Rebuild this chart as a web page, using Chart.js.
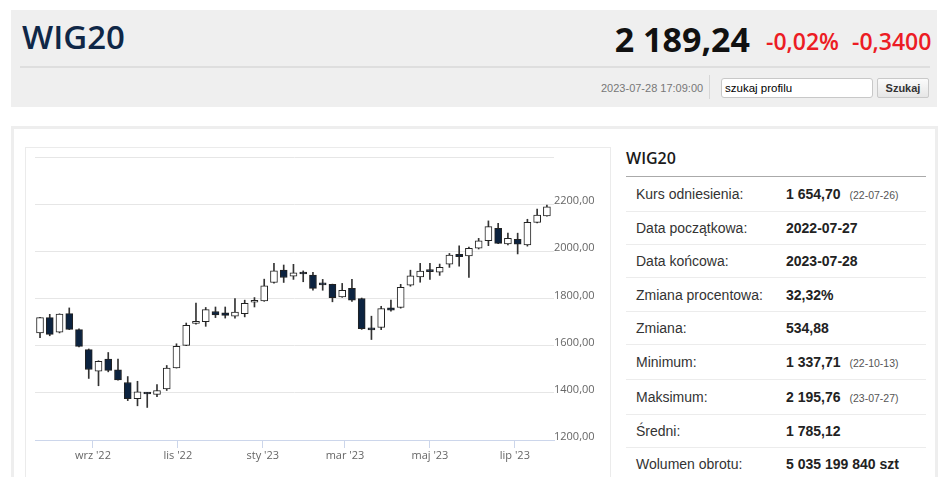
<!DOCTYPE html>
<html lang="pl">
<head>
<meta charset="utf-8">
<title>WIG20</title>
<script src="https://cdn.jsdelivr.net/npm/chart.js@4.4.0/dist/chart.umd.min.js"></script>
<style>
  body { margin: 0; width: 948px; height: 477px; overflow: hidden; background: #fff; position: relative;
         font-family: Arial, "Liberation Sans", sans-serif; }
  .abs { position: absolute; }
  #head { left: 11px; top: 10px; width: 926px; height: 97px; background: #efefef; }
  #title { left: 22px; top: 19px; font: 600 33px/35px "Open Sans", sans-serif; color: #0f2747; }
  #price { right: 198px; top: 21px; font: 700 34px/36px "Open Sans", sans-serif; color: #111; }
  .chg { top: 29px; font: 600 23px/24px "Open Sans", sans-serif; color: #ec1c24; }
  #sep { left: 20px; top: 66px; width: 910px; height: 2px; background: #dedede; }
  #stamp { left: 601px; top: 81px; font-size: 11px; line-height: 14px; color: #777; }
  #vdiv { left: 709px; top: 75px; width: 1px; height: 24px; background: #d6d6d6; }
  #search { left: 721px; top: 78px; width: 152px; height: 20px; box-sizing: border-box; border: 1px solid #c8c8c8;
            border-radius: 3px; background: #fff; font-size: 11.5px; line-height: 18px; padding-left: 3px; color: #000; }
  #btn { left: 877px; top: 78px; width: 52px; height: 20px; box-sizing: border-box; border: 1px solid #c9c9c9;
         border-radius: 2px; background: linear-gradient(#fbfbfb, #e6e6e6); font: bold 11px/18px Arial, sans-serif;
         color: #333; text-align: center; }
  #panel { left: 11px; top: 126px; width: 927px; height: 400px; box-sizing: border-box; border: 3px solid #eeeeee; }
  #box { left: 25px; top: 147px; width: 586px; height: 400px; box-sizing: border-box; border: 1px solid #ebebeb; }
  #chart { left: 25px; top: 147px; }
  #side-title { left: 626px; top: 150px; font: 600 16px/16px "Open Sans", sans-serif; color: #1a1a1a; }
  #side-line { left: 626px; top: 176px; width: 300px; height: 1px; background: #aaa; }
  #rows { left: 626px; top: 177px; width: 300px; }
  .row { position: relative; box-sizing: border-box; border-bottom: 1px solid #ececec; font-size: 14px; color: #333;
         display: flex; align-items: center; }
  .row .lbl { position: absolute; left: 10px; }
  .row .val { position: absolute; left: 160px; font-weight: bold; color: #222; white-space: nowrap; }
  .row .val small { font-weight: normal; font-size: 10.5px; color: #555; margin-left: 9px; }
</style>
</head>
<body>
<div id="head" class="abs"></div>
<div id="title" class="abs">WIG20</div>
<div id="price" class="abs">2 189,24</div>
<div class="abs chg" style="left:766px">-0,02%</div>
<div class="abs chg" style="left:852px">-0,3400</div>
<div id="sep" class="abs"></div>
<div id="stamp" class="abs">2023-07-28 17:09:00</div>
<div id="vdiv" class="abs"></div>
<div id="search" class="abs">szukaj profilu</div>
<div id="btn" class="abs">Szukaj</div>

<div id="panel" class="abs"></div>
<div id="box" class="abs"></div>
<canvas id="chart" class="abs" width="586" height="330"></canvas>

<div id="side-title" class="abs">WIG20</div>
<div id="side-line" class="abs"></div>
<div id="rows" class="abs">
  <div class="row" style="height:35px"><span class="lbl">Kurs odniesienia:</span><span class="val">1 654,70<small>(22-07-26)</small></span></div>
  <div class="row" style="height:33px"><span class="lbl">Data początkowa:</span><span class="val">2022-07-27</span></div>
  <div class="row" style="height:33px"><span class="lbl">Data końcowa:</span><span class="val">2023-07-28</span></div>
  <div class="row" style="height:34px"><span class="lbl">Zmiana procentowa:</span><span class="val">32,32%</span></div>
  <div class="row" style="height:33px"><span class="lbl">Zmiana:</span><span class="val">534,88</span></div>
  <div class="row" style="height:35px"><span class="lbl">Minimum:</span><span class="val">1 337,71<small>(22-10-13)</small></span></div>
  <div class="row" style="height:35px"><span class="lbl">Maksimum:</span><span class="val">2 195,76<small>(23-07-27)</small></span></div>
  <div class="row" style="height:33px"><span class="lbl">Średni:</span><span class="val">1 785,12</span></div>
  <div class="row" style="height:33px"><span class="lbl">Wolumen obrotu:</span><span class="val">5 035 199 840 szt</span></div>
</div>

<script>
// weekly candles, WIG20, 2022-07-25 .. 2023-07-24
const weeks = [
  '2022-07-25', '2022-08-01', '2022-08-08', '2022-08-15', '2022-08-22', '2022-08-29',
  '2022-09-05', '2022-09-12', '2022-09-19', '2022-09-26', '2022-10-03', '2022-10-10',
  '2022-10-17', '2022-10-24', '2022-10-31', '2022-11-07', '2022-11-14', '2022-11-21',
  '2022-11-28', '2022-12-05', '2022-12-12', '2022-12-19', '2022-12-26', '2023-01-02',
  '2023-01-09', '2023-01-16', '2023-01-23', '2023-01-30', '2023-02-06', '2023-02-13',
  '2023-02-20', '2023-02-27', '2023-03-06', '2023-03-13', '2023-03-20', '2023-03-27',
  '2023-04-03', '2023-04-10', '2023-04-17', '2023-04-24', '2023-05-01', '2023-05-08',
  '2023-05-15', '2023-05-22', '2023-05-29', '2023-06-05', '2023-06-12', '2023-06-19',
  '2023-06-26', '2023-07-03', '2023-07-10', '2023-07-17', '2023-07-24'
];
const open = [
  1654, 1719, 1657, 1736, 1668, 1583, 1492, 1543, 1498, 1444, 1375, 1397,
  1393, 1417, 1506, 1601, 1694, 1702, 1745, 1739, 1725, 1736, 1784, 1790,
  1868, 1920, 1895, 1907, 1899, 1861, 1860, 1807, 1843, 1800, 1669, 1677,
  1760, 1762, 1857, 1892, 1918, 1912, 1946, 1987, 1981, 2013, 2045, 2098,
  2031, 2051, 2027, 2123, 2150
];
const high = [
  1720, 1733, 1735, 1760, 1671, 1586, 1536, 1571, 1543, 1469, 1449, 1402,
  1435, 1516, 1608, 1696, 1781, 1762, 1764, 1764, 1800, 1793, 1804, 1882,
  1949, 1942, 1945, 1917, 1911, 1881, 1861, 1864, 1881, 1802, 1725, 1767,
  1793, 1860, 1920, 1949, 1949, 1946, 1991, 2023, 2018, 2055, 2129, 2119,
  2077, 2077, 2136, 2179, 2196
];
const low = [
  1634, 1642, 1654, 1668, 1595, 1461, 1430, 1489, 1454, 1367, 1345, 1338,
  1384, 1410, 1505, 1600, 1691, 1682, 1719, 1717, 1717, 1722, 1764, 1788,
  1865, 1868, 1881, 1871, 1835, 1835, 1786, 1805, 1788, 1669, 1626, 1668,
  1746, 1759, 1852, 1869, 1881, 1898, 1932, 1937, 1889, 2010, 2024, 2032,
  2027, 1989, 2022, 2120, 2149
];
const close = [
  1719, 1648, 1734, 1669, 1597, 1499, 1534, 1495, 1455, 1375, 1404, 1395,
  1410, 1505, 1597, 1686, 1703, 1753, 1730, 1728, 1742, 1779, 1787, 1854,
  1917, 1889, 1909, 1904, 1843, 1858, 1803, 1835, 1793, 1672, 1667, 1757,
  1750, 1847, 1896, 1916, 1914, 1932, 1984, 1977, 2013, 2045, 2105, 2034,
  2055, 2030, 2123, 2154, 2189
];

const yTicks = [1200, 1400, 1600, 1800, 2000, 2200, 2400];
const monthTicks = ['2022-09-01', '2022-11-01', '2023-01-01', '2023-03-01', '2023-05-01', '2023-07-01'];
const monthLabels = ["wrz '22", "lis '22", "sty '23", "mar '23", "maj '23", "lip '23"];

const t0 = Date.parse(weeks[0]);
const dayOf = d => (Date.parse(d) - t0) / 86400000;

const bodies = weeks.map((d, i) => ({ x: dayOf(d), y: [open[i], close[i]] }));
const wicks = weeks.map((d, i) => ({ x: dayOf(d), y: [low[i], high[i]] }));
const bodyColors = open.map((o, i) => close[i] >= o ? '#ffffff' : '#0c2340');

Chart.defaults.font.family = "'Open Sans', sans-serif";
Chart.defaults.font.size = 11;
Chart.defaults.color = '#666';

new Chart(document.getElementById('chart'), {
  type: 'bar',
  data: {
    datasets: [
      {
        data: bodies,
        backgroundColor: bodyColors,
        borderColor: '#222',
        borderWidth: 1,
        borderSkipped: false,
        barThickness: 7,
        minBarLength: 2,
        grouped: false,
        order: 0
      },
      {
        data: wicks,
        backgroundColor: '#333',
        barThickness: 1,
        grouped: false,
        order: 1
      }
    ]
  },
  options: {
    responsive: false,
    animation: false,
    layout: { autoPadding: false, padding: { left: 10, top: 10, right: 0, bottom: 0 } },
    plugins: { legend: { display: false }, tooltip: { enabled: false } },
    scales: {
      x: {
        type: 'linear',
        min: -3.6,
        max: 369.1,
        offset: false,
        afterBuildTicks: ax => { ax.ticks = monthTicks.map(d => ({ value: dayOf(d) })); },
        afterFit: ax => { ax.height = 37; },
        grid: { drawOnChartArea: false, offset: false, color: '#ccd6eb', tickLength: 8 },
        border: { color: '#ccd6eb' },
        ticks: {
          autoSkip: false,
          maxRotation: 0,
          padding: 1,
          callback: (v, i) => monthLabels[i]
        }
      },
      y: {
        position: 'right',
        min: 1200,
        max: 2400,
        afterBuildTicks: ax => { ax.ticks = yTicks.map(v => ({ value: v })); },
        afterFit: ax => { ax.width = 57; },
        grid: { color: '#e6e6e6', drawTicks: false },
        border: { display: false },
        ticks: {
          padding: 0,
          labelOffset: -3,
          callback: v => v === 2400 ? '' : v.toFixed(2).replace('.', ',')
        }
      }
    }
  }
});
</script>
</body>
</html>
